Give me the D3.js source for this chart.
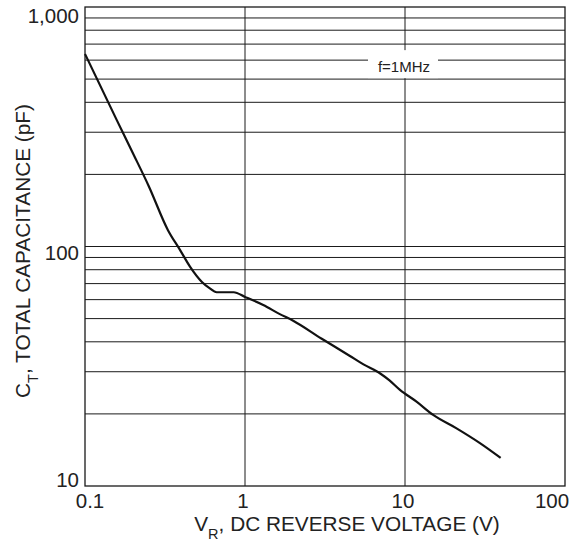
<!DOCTYPE html>
<html>
<head>
<meta charset="utf-8">
<script src="https://cdn.jsdelivr.net/npm/d3@7"></script>
<style>
  html, body { margin: 0; padding: 0; background: #fff; }
  svg { display: block; font-family: "Liberation Sans", Arial, Helvetica, sans-serif; }
</style>
</head>
<body>
<svg id="chart" width="587" height="544"></svg>
<script>
// ---- data ----
const voltage = [0.1, 0.158, 0.2, 0.25, 0.33, 0.393, 0.453, 0.536, 0.6, 0.665, 0.85, 1.0, 1.3, 1.65, 2.0, 3.0, 4.5, 5.5, 7.0, 8.0, 9.3, 11.8, 15, 21, 29.4, 39.6];
const capacitance = [637, 337, 244, 179, 117, 96.6, 82.4, 71.3, 67, 64.4, 64.4, 61.6, 57, 52.2, 49, 41.3, 35, 32.2, 29.5, 27.6, 25.2, 22.5, 19.8, 17.4, 15.1, 13.1];
const xTicks = [0.1, 1, 10, 100];
const xTickLabels = ["0.1", "1", "10", "100"];
const yTicks = [10, 100, 1000];
const yTickLabels = ["10", "100", "1,000"];
const yGrid = [20, 30, 40, 50, 60, 70, 80, 90, 100, 200, 300, 400, 500, 600, 700, 800, 900];
const xGrid = [1, 10];
const annotation = { text: "f=1MHz", v: 10, c: 600 };

// ---- layout ----
const svg = d3.select("#chart");
const pL = 85, pR = 565, pT = 7, pB = 486;
const x = d3.scaleLog().domain([0.1, 100]).range([pL, pR]);
const y = d3.scaleLog().domain([10, 1000]).range([pB, pT]);
const ink = "#1a1a1a";

// horizontal grid
svg.append("g").selectAll("line").data(yGrid).join("line")
  .attr("x1", pL).attr("x2", pR)
  .attr("y1", d => y(d)).attr("y2", d => y(d))
  .attr("stroke", ink).attr("stroke-width", 1);

// vertical grid
svg.append("g").selectAll("line").data(xGrid).join("line")
  .attr("y1", pT).attr("y2", pB)
  .attr("x1", d => x(d)).attr("x2", d => x(d))
  .attr("stroke", ink).attr("stroke-width", 1);

// annotation with white backing
const ax = x(annotation.v), ay = y(annotation.c);
svg.append("rect").attr("x", ax - 37).attr("y", ay - 10).attr("width", 70).attr("height", 28).attr("fill", "#fff");
svg.append("text").attr("x", ax - 1).attr("y", ay + 12)
  .attr("text-anchor", "middle").attr("font-size", 15).attr("fill", "#222")
  .text(annotation.text);

// frame
svg.append("rect").attr("x", pL).attr("y", pT).attr("width", pR - pL).attr("height", pB - pT)
  .attr("fill", "none").attr("stroke", ink).attr("stroke-width", 1.3);

// curve
const line = d3.line().x((d, i) => x(voltage[i])).y((d, i) => y(capacitance[i])).curve(d3.curveMonotoneX);
svg.append("path").datum(voltage).attr("d", line)
  .attr("fill", "none").attr("stroke", "#111").attr("stroke-width", 2.2).attr("stroke-linejoin", "round");

// x tick labels
const xDx = {"0.1": 5, "1": -2, "10": -2, "100": -13};
svg.append("g").selectAll("text").data(xTicks).join("text")
  .attr("x", (d, i) => x(d) + xDx[xTickLabels[i]])
  .attr("y", 508)
  .attr("text-anchor", "middle").attr("font-size", 20.5).attr("fill", "#222")
  .text((d, i) => xTickLabels[i]);

// y tick labels
const yDy = {"10": 1, "100": 13, "1,000": 16};
svg.append("g").selectAll("text").data(yTicks).join("text")
  .attr("x", 79)
  .attr("y", (d, i) => y(d) + yDy[yTickLabels[i]])
  .attr("text-anchor", "end").attr("font-size", 20.5).attr("fill", "#222")
  .text((d, i) => yTickLabels[i]);

// x title
const xt = svg.append("text").attr("x", 347).attr("y", 531)
  .attr("text-anchor", "middle").attr("font-size", 20.8).attr("fill", "#222");
xt.append("tspan").text("V");
xt.append("tspan").attr("font-size", 14.5).attr("dy", 8).text("R");
xt.append("tspan").attr("dy", -8).text(", DC REVERSE VOLTAGE (V)");

// y title
const yt = svg.append("text").attr("transform", "translate(30,251) rotate(-90)")
  .attr("text-anchor", "middle").attr("font-size", 20.8).attr("fill", "#222");
yt.append("tspan").text("C");
yt.append("tspan").attr("font-size", 14.5).attr("dy", 8).text("T");
yt.append("tspan").attr("dy", -8).text(", TOTAL CAPACITANCE (pF)");
</script>
</body>
</html>
